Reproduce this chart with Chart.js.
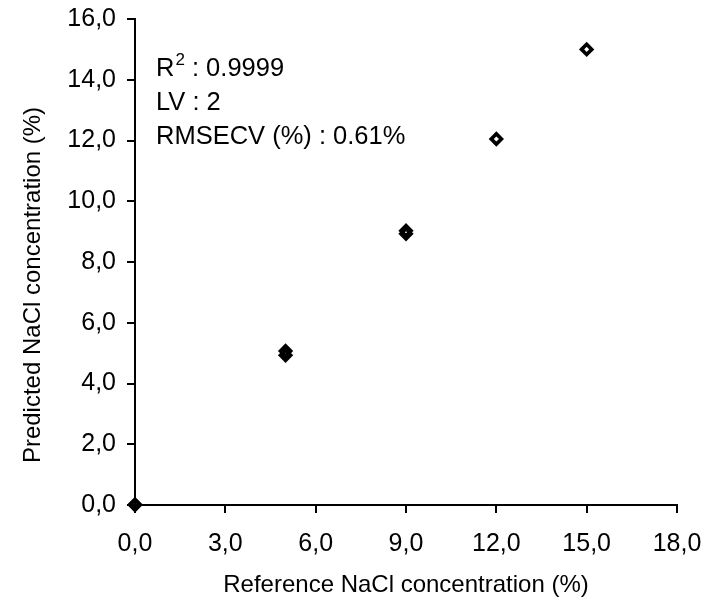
<!DOCTYPE html>
<html><head><meta charset="utf-8">
<script src="https://cdn.jsdelivr.net/npm/chart.js@4"></script>
<style>html,body{margin:0;padding:0;background:#fff}#wrap{width:718px;height:600px;position:relative}</style>
</head><body><div id="wrap"><canvas id="c"></canvas></div>
<script>
const referenceX = [0, 0, 5, 5, 9, 9, 12, 15];
const predictedY = [0, 0.02, 5.07, 4.93, 9.03, 8.93, 12.05, 15.0];
const xTickValues = [0, 3, 6, 9, 12, 15, 18];
const yTickValues = [0, 2, 4, 6, 8, 10, 12, 14, 16];
const xTitle = 'Reference NaCl concentration (%)';
const yTitle = 'Predicted NaCl concentration (%)';
const statsLines = [
  { label: 'R', sup: '2', value: ' : 0.9999' },
  { label: 'LV', sup: '', value: ' : 2' },
  { label: 'RMSECV (%)', sup: '', value: ' : 0.61%' }
];

const FONT = '"Liberation Sans", Arial, sans-serif';
const points = referenceX.map((x, i) => ({ x: x, y: predictedY[i] }));
const fmt = v => Number(v).toFixed(1).replace('.', ',');

const overlay = {
  id: 'overlay',
  afterDraw(chart) {
    const ctx = chart.ctx;
    ctx.save();
    ctx.fillStyle = '#000';
    ctx.textBaseline = 'alphabetic';
    let y = 76;
    statsLines.forEach(l => {
      let x = 156;
      ctx.font = '25.5px ' + FONT;
      ctx.fillText(l.label, x, y);
      x += ctx.measureText(l.label).width;
      if (l.sup) {
        ctx.font = '17px ' + FONT;
        ctx.fillText(l.sup, x + 1, y - 11);
        x += ctx.measureText(l.sup).width + 1;
      }
      ctx.font = '25.5px ' + FONT;
      ctx.fillText(l.value, x, y);
      y += 34;
    });
    ctx.translate(33, 285);
    ctx.rotate(-Math.PI / 2);
    ctx.font = '24px ' + FONT;
    ctx.textAlign = 'center';
    ctx.textBaseline = 'middle';
    ctx.fillText(yTitle, 0, 0);
    ctx.restore();
  }
};

new Chart(document.getElementById('c'), {
  type: 'scatter',
  data: {
    datasets: [{
      data: points,
      pointStyle: 'rectRot',
      pointRadius: 5.1,
      pointHoverRadius: 5.1,
      pointBorderWidth: 3.6,
      pointBackgroundColor: 'rgba(0,0,0,0)',
      pointBorderColor: '#000',
      clip: false
    }]
  },
  options: {
    responsive: true,
    maintainAspectRatio: false,
    animation: false,
    events: [],
    layout: { padding: { left: 0, top: 19, right: 41, bottom: 0 } },
    plugins: { legend: { display: false }, tooltip: { enabled: false } },
    scales: {
      x: {
        type: 'linear', min: 0, max: 18,
        afterBuildTicks: s => { s.ticks = xTickValues.map(v => ({ value: v })); },
        afterFit: s => { s.height = 95; },
        border: { display: true, color: '#000', width: 2 },
        grid: { display: true, drawOnChartArea: false, drawTicks: true, tickLength: 8, color: '#000', lineWidth: 2 },
        ticks: { color: '#000', font: { family: FONT, size: 25 }, padding: 16, maxRotation: 0, callback: v => fmt(v) },
        title: { display: true, text: xTitle, color: '#000', font: { family: FONT, size: 24 }, padding: { top: 2, bottom: 0 } }
      },
      y: {
        type: 'linear', min: 0, max: 16,
        afterBuildTicks: s => { s.ticks = yTickValues.map(v => ({ value: v })); },
        afterFit: s => { s.width = 135; s.paddingTop = 0; s.paddingBottom = 0; },
        border: { display: true, color: '#000', width: 2 },
        grid: { display: true, drawOnChartArea: false, drawTicks: true, tickLength: 8, color: '#000', lineWidth: 2 },
        ticks: { color: '#000', font: { family: FONT, size: 25 }, padding: 11, callback: v => fmt(v) }
      }
    }
  },
  plugins: [overlay]
});
</script>
</body></html>
